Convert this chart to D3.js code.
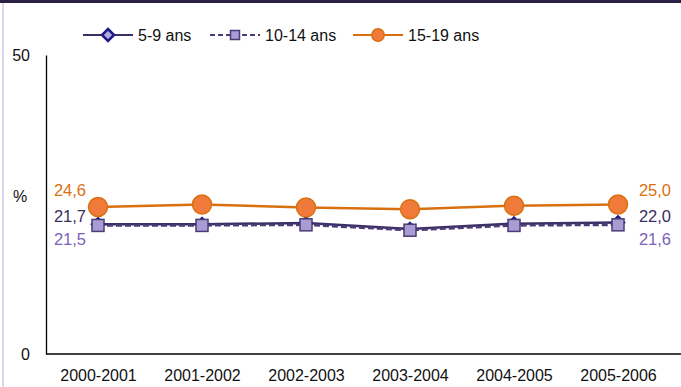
<!DOCTYPE html>
<html>
<head>
<meta charset="utf-8">
<script src="https://cdn.jsdelivr.net/npm/d3@7"></script>
<style>
  html, body { margin: 0; padding: 0; background: #fff; }
  svg { display: block; font-family: "Liberation Sans", Arial, sans-serif; }
</style>
</head>
<body>
<svg id="chart" width="681" height="387"></svg>
<script>
// School years on the x axis
const years = ["2000-2001", "2001-2002", "2002-2003", "2003-2004", "2004-2005", "2005-2006"];
// Rates (%) by age group
const age5to9 = [21.7, 21.7, 21.9, 20.9, 21.8, 22.0];
const age10to14 = [21.5, 21.5, 21.6, 20.7, 21.5, 21.6];
const age15to19 = [24.6, 25.0, 24.5, 24.2, 24.8, 25.0];
const yTicks = [0, 50];
const seriesNames = ["5-9 ans", "10-14 ans", "15-19 ans"];

const svg = d3.select("#chart");
const W = 681, H = 387;

// frame: dark top band and pale left rule
svg.append("rect").attr("x", 0).attr("y", 0).attr("width", W).attr("height", 3).attr("fill", "#2a1f45");
svg.append("rect").attr("x", 2).attr("y", 3).attr("width", 2).attr("height", H - 3).attr("fill", "#dcd8e8");

const x = d3.scalePoint().domain(years).range([98, 618]);
const y = d3.scaleLinear().domain([0, 50]).range([354, 55]);

// axes
const yAxis = svg.append("g").attr("transform", "translate(46,0)")
  .call(d3.axisLeft(y).tickValues(yTicks).tickSize(0).tickPadding(16));
yAxis.select(".domain").attr("stroke", "#000").attr("stroke-width", 1.3);
yAxis.selectAll("text").attr("font-size", 16).attr("fill", "#111").attr("font-family", "Liberation Sans, Arial, sans-serif");

const xAxis = svg.append("g").attr("transform", "translate(0,354)")
  .call(d3.axisBottom(x).tickSize(0).tickPadding(16));
xAxis.select(".domain").attr("d", "M46,0H681").attr("stroke", "#000").attr("stroke-width", 1.3);
xAxis.selectAll("text").attr("font-size", 16).attr("fill", "#111").attr("font-family", "Liberation Sans, Arial, sans-serif");

svg.append("text").attr("x", 20).attr("y", 202).attr("text-anchor", "middle")
  .attr("font-size", 16).attr("fill", "#111").text("%");

const line = d3.line().x((d, i) => x(years[i])).y(d => y(d));

const styles = [
  { data: age5to9, stroke: "#3b2f66", dash: null, marker: "diamond", fill: "#b6a9dc", mstroke: "#1d1a8a", label: "#3b2f5e", labelY: 222 },
  { data: age10to14, stroke: "#4a3d75", dash: "6,3", marker: "square", fill: "#a99bd3", mstroke: "#4a3d75", label: "#7a62b8", labelY: 245 },
  { data: age15to19, stroke: "#d9700f", dash: null, marker: "circle", fill: "#f07a3a", mstroke: "#d9700f", label: "#d9700f", labelY: 196 }
];

function drawMarker(g, type, cx, cy, s, scale) {
  const k = scale || 1;
  if (type === "diamond") {
    const r = 6 * k;
    g.append("path").attr("d", `M${cx},${cy - r}L${cx + r},${cy}L${cx},${cy + r}L${cx - r},${cy}Z`)
      .attr("fill", s.fill).attr("stroke", s.mstroke).attr("stroke-width", 2.5);
  } else if (type === "square") {
    const r = 6 * k;
    g.append("rect").attr("x", cx - r).attr("y", cy - r).attr("width", 2 * r).attr("height", 2 * r)
      .attr("fill", s.fill).attr("stroke", s.mstroke).attr("stroke-width", 1.5);
  } else {
    const r = 9.5 * k;
    g.append("circle").attr("cx", cx).attr("cy", cy).attr("r", r)
      .attr("fill", s.fill).attr("stroke", s.mstroke).attr("stroke-width", 1.5);
  }
}

styles.forEach(s => {
  svg.append("path").datum(s.data).attr("d", line)
    .attr("fill", "none").attr("stroke", s.stroke).attr("stroke-width", 2.5)
    .attr("stroke-dasharray", s.dash);
  const g = svg.append("g");
  s.data.forEach((v, i) => drawMarker(g, s.marker, x(years[i]), y(v), s));
});

// end-point value labels
const fmt = v => d3.format(".1f")(v).replace(".", ",");
styles.forEach(s => {
  const first = s.data[0], last = s.data[s.data.length - 1];
  svg.append("text").attr("x", 70).attr("y", s.labelY).attr("text-anchor", "middle")
    .attr("font-size", 16.5).attr("fill", s.label).text(fmt(first));
  svg.append("text").attr("x", 655).attr("y", s.labelY).attr("text-anchor", "middle")
    .attr("font-size", 16.5).attr("fill", s.label).text(fmt(last));
});

// legend
const legend = svg.append("g");
const legendX = [83, 210, 353];
const legendScale = [1.0, 0.75, 0.65];
styles.forEach((s, i) => {
  const lx = legendX[i], ly = 35;
  legend.append("line").attr("x1", lx).attr("x2", lx + 50).attr("y1", ly).attr("y2", ly)
    .attr("stroke", s.stroke).attr("stroke-width", 2).attr("stroke-dasharray", s.dash ? "5,3" : null);
  drawMarker(legend, s.marker, lx + 25, ly, s, legendScale[i]);
  legend.append("text").attr("x", lx + 55).attr("y", ly + 6).attr("font-size", 16)
    .attr("fill", "#111").text(seriesNames[i]);
});
</script>
</body>
</html>
